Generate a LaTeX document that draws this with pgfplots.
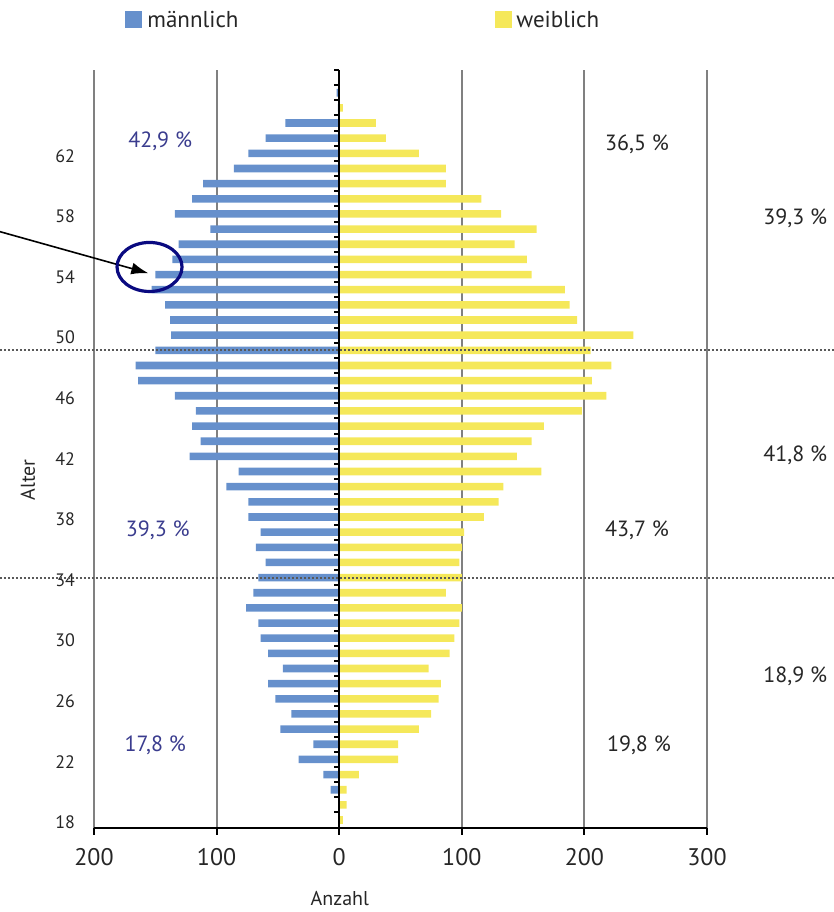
\documentclass[border=0pt]{standalone}
\usepackage{fontspec}
\setmainfont{PT Sans}
\usepackage{pgfplots}
\usepackage{pgfplotstable}
\pgfplotsset{compat=1.18}
\usetikzlibrary{arrows.meta}
\definecolor{mblue}{HTML}{6690CC}
\definecolor{wyellow}{HTML}{F5E85A}
\definecolor{ptext}{HTML}{3A3C8E}
\definecolor{navyc}{HTML}{0A0A80}
\definecolor{gridgray}{HTML}{808080}
\definecolor{dtext}{HTML}{262626}
\pgfplotstableread{
age m w
18 0 3
19 0 6
20 -7 6
21 -13 16
22 -33 48
23 -21 48
24 -48 65
25 -39 75
26 -52 81
27 -58 83
28 -46 73
29 -58 90
30 -64 94
31 -66 98
32 -76 100
33 -70 87
34 -66 100
35 -60 98
36 -68 100
37 -64 102
38 -74 118
39 -74 130
40 -92 134
41 -82 165
42 -122 145
43 -113 157
44 -120 167
45 -117 198
46 -134 218
47 -164 206
48 -166 222
49 -150 205
50 -137 240
51 -138 194
52 -142 188
53 -153 184
54 -150 157
55 -136 153
56 -131 143
57 -105 161
58 -134 132
59 -120 116
60 -111 87
61 -86 87
62 -74 65
63 -60 38
64 -44 30
65 -1 3
66 -2 0
}\data
\begin{document}
\begin{tikzpicture}
\useasboundingbox (0,0) rectangle (417pt,456pt);
\begin{axis}[
  at={(47pt,42.2pt)}, anchor=south west,
  scale only axis, width=306.5pt, height=378.8pt,
  xmin=-200, xmax=300, ymin=17.5, ymax=67.5,
  clip=false,
  axis x line*=bottom,
  y axis line style={draw=none},
  x axis line style={black, line width=1pt},
  xtick={-200,-100,0,100,200,300},
  xticklabels={200,100,0,100,200,300},
  ytick={18,22,...,62},
  ytick style={draw=none},
  xtick style={black, line width=1pt},
  tick align=outside,
  major tick length=3.5pt,
  xmajorgrids,
  major x grid style={gridgray, line width=1pt},
  /pgf/number format/assume math mode=true,
  xticklabel style={font=\fontsize{12}{14}\selectfont, text=dtext, yshift=-3.5pt},
  yticklabel style={font=\fontsize{9}{11}\selectfont, text=dtext, anchor=east, xshift=-2.5pt, yshift=-1.2pt},
  xlabel={Anzahl}, ylabel={Alter},
  every axis x label/.style={at={(axis description cs:0.401,-0.094)}, anchor=center, inner sep=1pt, font=\fontsize{10}{12}\selectfont, text=dtext},
  every axis y label/.style={at={(axis description cs:-0.1077,0.459)}, rotate=90, anchor=center, font=\fontsize{10}{12}\selectfont, text=dtext},
]
\addplot[xbar, bar width=0.5, bar shift=0pt, fill=mblue, draw=none] table[x=m, y=age]{\data};
\addplot[xbar, bar width=0.5, bar shift=0pt, fill=wyellow, draw=none] table[x=w, y=age]{\data};
% central axis with category ticks
\draw[black, line width=1pt] (axis cs:0,17.5) -- (axis cs:0,67.5);
\pgfplotsinvokeforeach{18.5,19.5,...,67.5}{
  \draw[black, line width=1pt] (axis cs:0,#1) -- ++(-2.5pt,0pt);
}
% dotted separators
\draw[densely dotted, line width=1pt, black!65] (axis cs:-276.7,49) -- (axis cs:403.6,49);
\draw[densely dotted, line width=1pt, black!65] (axis cs:-276.7,34) -- (axis cs:403.6,34);
% percentages
\node[text=ptext, font=\fontsize{11}{13}\selectfont] at (axis cs:-146,62.8) {42,9 \%};
\node[text=ptext, font=\fontsize{11}{13}\selectfont] at (axis cs:-148,37.1) {39,3 \%};
\node[text=ptext, font=\fontsize{11}{13}\selectfont] at (axis cs:-150,22.9) {17,8 \%};
\node[text=dtext, font=\fontsize{11}{13}\selectfont] at (axis cs:243,62.6) {36,5 \%};
\node[text=dtext, font=\fontsize{11}{13}\selectfont] at (axis cs:243,37.1) {43,7 \%};
\node[text=dtext, font=\fontsize{11}{13}\selectfont] at (axis cs:244.5,22.9) {19,8 \%};
\node[text=dtext, font=\fontsize{11}{13}\selectfont] at (axis cs:372,57.7) {39,3 \%};
\node[text=dtext, font=\fontsize{11}{13}\selectfont] at (axis cs:372,42.1) {41,8 \%};
\node[text=dtext, font=\fontsize{11}{13}\selectfont] at (axis cs:372,27.5) {18,9 \%};
% annotation
\draw[-{Latex[length=8.5pt,width=6pt]}, line width=0.8pt, black] (axis cs:-276.7,56.83) -- (axis cs:-155.7,54.09);
\draw[navyc, line width=1.6pt] (axis cs:-154.7,54.5) ellipse [x radius=16.25pt, y radius=12.25pt];
\end{axis}
% legend
\fill[mblue] (62.5pt,442pt) rectangle (71pt,450.5pt);
\node[anchor=base west, inner sep=0pt, text=dtext, font=\fontsize{11.5}{13}\selectfont] at (73.5pt,442.2pt) {männlich};
\fill[wyellow] (247.5pt,442pt) rectangle (256pt,450.5pt);
\node[anchor=base west, inner sep=0pt, text=dtext, font=\fontsize{11.5}{13}\selectfont] at (258pt,442.2pt) {weiblich};
\end{tikzpicture}
\end{document}
